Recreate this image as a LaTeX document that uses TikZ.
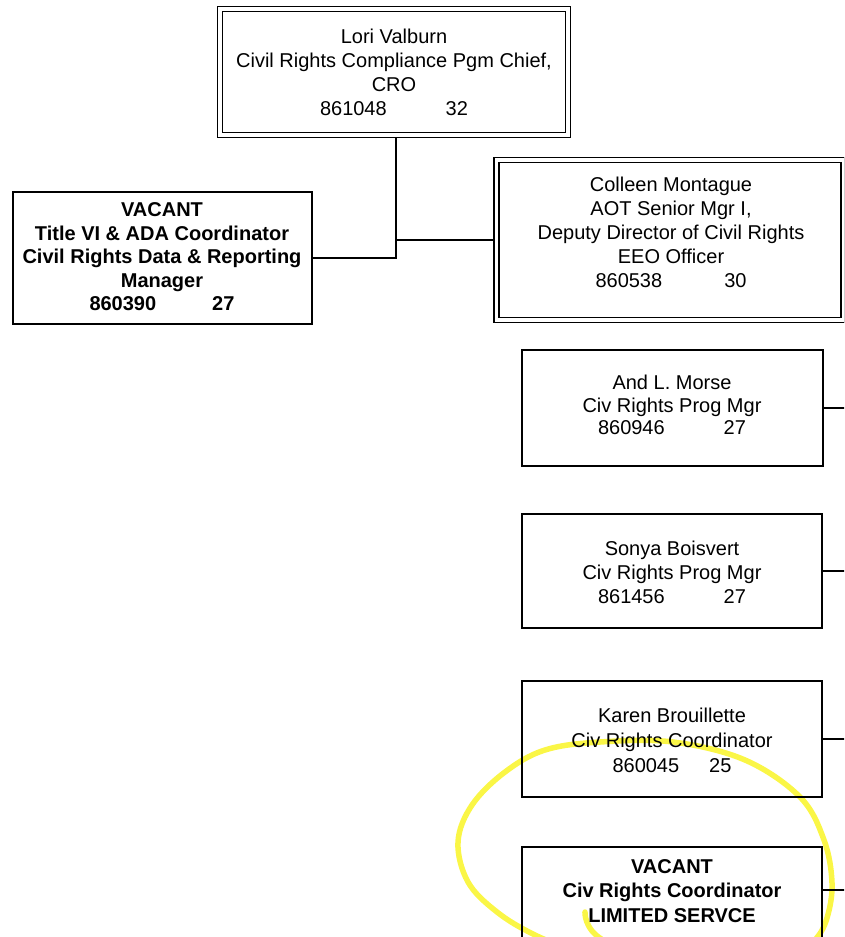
\documentclass[tikz,border=0pt]{standalone}
\usepackage{fontspec}
\setmainfont{Liberation Sans}
\definecolor{hlyellow}{RGB}{250,246,70}
\begin{document}
\begin{tikzpicture}[x=1pt,y=-1pt,
  box/.style={draw, line width=1.9pt, inner sep=0pt, outer sep=0pt},
  dbox/.style={draw, double, line width=1.7pt, double distance=3.3pt, inner sep=0pt, outer sep=0pt},
  txt/.style={align=center, font=\fontsize{20}{24}\selectfont, inner sep=0pt},
  btxt/.style={align=center, font=\fontsize{20}{23.5}\selectfont\bfseries, inner sep=0pt},
  link/.style={line width=1.8pt},
  hl/.style={draw=hlyellow, line width=5.5pt, line cap=round, line join=round}]
\useasboundingbox (0,0) rectangle (844,937);
\begin{scope}
\clip (0,0) rectangle (844,937);
% highlighter loop
\draw[hl] plot[smooth, tension=0.6] coordinates {(585,912) (603,940) (700,978) (790,962) (815,940) (827,918) (832,883) (824,840) (800,797) (745,760) (673,742) (600,742) (545,750) (505,772) (472,805) (458,842) (468,882) (497,912) (535,935) (590,958)};

% boxes (geometry)
\node[dbox, minimum width=348pt, minimum height=126pt] (chief) at (394,72) {};
\node[box, minimum width=299pt, minimum height=132pt] (vtitle) at (162.5,258) {};
\node[dbox, minimum width=347pt, minimum height=160pt] (deputy) at (670,240) {};
\node[box, minimum width=301pt, minimum height=116pt] (morse) at (672.5,408) {};
\node[box, minimum width=300pt, minimum height=114pt] (sonya) at (672,571) {};
\node[box, minimum width=300pt, minimum height=116pt] (karen) at (672,739) {};
\node[box, minimum width=300pt, minimum height=116pt] (vcoord) at (672,905) {};

\coordinate (rim) at (850,0);
\coordinate (drop) at ([xshift=2pt]chief.south);
\coordinate (vport) at ([yshift=-43pt]vcoord.north east);

% connectors
\draw[link] (drop) -- (drop |- vtitle.east) -- (vtitle.east);
\draw[link] (drop |- deputy.west) -- (deputy.west);
\draw[link] (morse.east) -- (morse.east -| rim);
\draw[link] (sonya.east) -- (sonya.east -| rim);
\draw[link] (karen.east) -- (karen.east -| rim);
\draw[link] (vport) -- (vport -| rim);

% redraw double boxes on top of connector ends
\node[dbox, minimum width=348pt, minimum height=126pt] at (394,72) {};
\node[dbox, minimum width=347pt, minimum height=160pt] at (670,240) {};

% texts
\node[txt] (chieft) at (394,72) {Lori Valburn\\Civil Rights Compliance Pgm Chief,\\CRO\\861048\hspace*{59pt}32};
\node[btxt] (vtitlet) at (162,257) {VACANT\\Title VI \& ADA Coordinator\\Civil Rights Data \& Reporting\\Manager\\860390\hspace*{56pt}27};
\node[txt] (deputyt) at (671,232) {Colleen Montague\\AOT Senior Mgr I,\\Deputy Director of Civil Rights\\EEO Officer\\860538\hspace*{62pt}30};
\node[txt, font=\fontsize{20}{22.5}\selectfont] (morset) at (672,405) {And L. Morse\\Civ Rights Prog Mgr\\860946\hspace*{59pt}27};
\node[txt] (sonyat) at (672,572) {Sonya Boisvert\\Civ Rights Prog Mgr\\861456\hspace*{59pt}27};
\node[txt, font=\fontsize{20}{25}\selectfont] (karent) at (672,740) {Karen Brouillette\\Civ Rights Coordinator\\860045\hspace*{30pt}25};
\node[btxt, font=\fontsize{20}{24.5}\selectfont\bfseries] (vcoordt) at (672,891) {VACANT\\Civ Rights Coordinator\\LIMITED SERVCE};
\end{scope}
\end{tikzpicture}
\end{document}
